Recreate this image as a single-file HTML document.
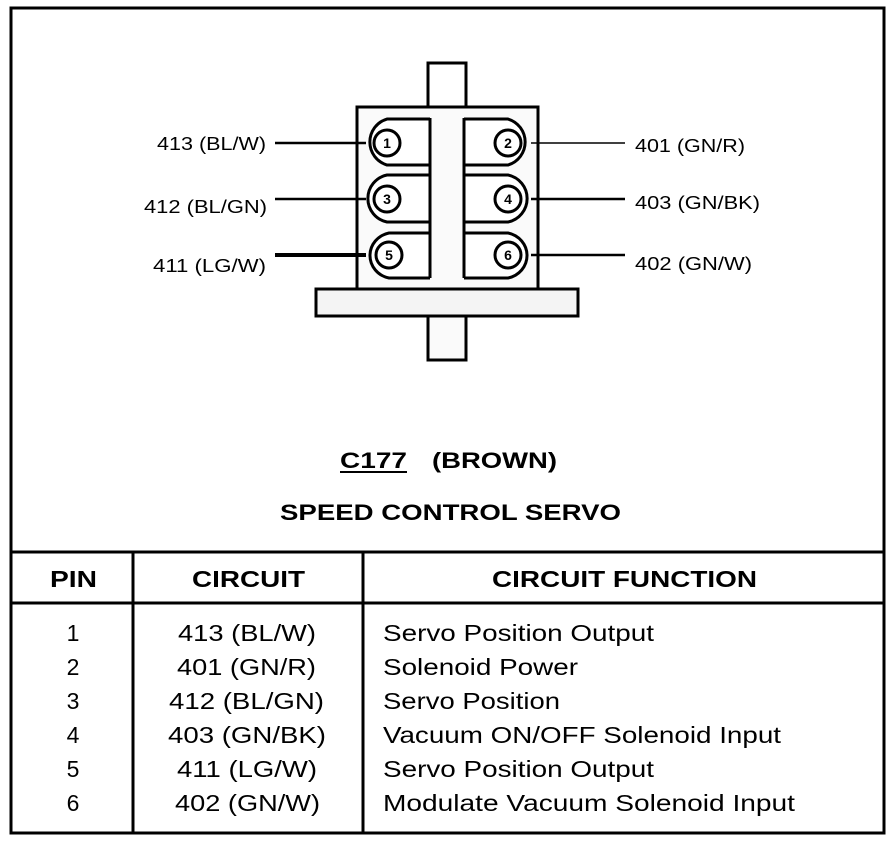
<!DOCTYPE html>
<html><head><style>
body{margin:0;background:#fff;}
svg text{font-family:"Liberation Sans",Arial,sans-serif;fill:#000;}
</style></head><body>
<svg width="896" height="842" viewBox="0 0 896 842" xmlns="http://www.w3.org/2000/svg">
<rect x="11" y="8" width="873" height="825" fill="none" stroke="#000" stroke-width="3"/>
<rect x="428" y="63" width="38" height="44" fill="#fff" stroke="#000" stroke-width="3"/>
<rect x="357" y="107" width="181" height="182" fill="#fafafa" stroke="#000" stroke-width="3"/>
<rect x="316" y="289" width="262" height="27" fill="#f4f4f4" stroke="#000" stroke-width="3"/>
<rect x="428" y="316" width="38" height="44" fill="#fafafa" stroke="#000" stroke-width="3"/>
<g fill="#fff" stroke="#000" stroke-width="3">
<path d="M430 119 H387 A24 24 0 0 0 387 165 H430"/>
<path d="M430 175 H387 A24 24 0 0 0 387 222 H430"/>
<path d="M430 233 H389 A24 23 0 0 0 389 278 H430"/>
<path d="M464 119 H508 A24 24 0 0 1 508 165 H464"/>
<path d="M464 175 H508 A24 24 0 0 1 508 222 H464"/>
<path d="M464 233 H508 A24 23 0 0 1 508 278 H464"/>
<circle cx="387" cy="143" r="13"/><circle cx="387" cy="199" r="13"/><circle cx="389" cy="255" r="13"/>
<circle cx="508" cy="143" r="13"/><circle cx="508" cy="199" r="13"/><circle cx="508" cy="255" r="13"/>
</g>
<path d="M430 118 V278 M464 118 V278" stroke="#000" stroke-width="3"/>
<g font-size="14" font-weight="bold" text-anchor="middle">
<text x="387" y="148">1</text><text x="387" y="204">3</text><text x="389" y="260">5</text>
<text x="508" y="148">2</text><text x="508" y="204">4</text><text x="508" y="260">6</text>
</g>
<g stroke="#000" stroke-width="2.5">
<line x1="275" y1="143" x2="366" y2="143"/>
<line x1="275" y1="199" x2="366" y2="199"/>
<line x1="275" y1="255" x2="366" y2="255" stroke-width="4"/>
<line x1="531" y1="143" x2="625" y2="143" stroke-width="1.5"/>
<line x1="531" y1="199" x2="625" y2="199"/>
<line x1="531" y1="255" x2="625" y2="255"/>
</g>
<g font-size="18">
<text x="157" y="150" textLength="109" lengthAdjust="spacingAndGlyphs">413 (BL/W)</text>
<text x="144" y="213" textLength="123" lengthAdjust="spacingAndGlyphs">412 (BL/GN)</text>
<text x="153" y="272" textLength="113" lengthAdjust="spacingAndGlyphs">411 (LG/W)</text>
<text x="635" y="152" textLength="110" lengthAdjust="spacingAndGlyphs">401 (GN/R)</text>
<text x="635" y="209" textLength="125" lengthAdjust="spacingAndGlyphs">403 (GN/BK)</text>
<text x="635" y="270" textLength="117" lengthAdjust="spacingAndGlyphs">402 (GN/W)</text>
</g>
<g font-size="22" font-weight="bold">
<text x="340" y="468" textLength="67" lengthAdjust="spacingAndGlyphs">C177</text>
<line x1="340" y1="472" x2="407" y2="472" stroke="#000" stroke-width="2"/>
<text x="432" y="468" textLength="125" lengthAdjust="spacingAndGlyphs">(BROWN)</text>
<text x="280" y="520" textLength="341" lengthAdjust="spacingAndGlyphs">SPEED CONTROL SERVO</text>
</g>
<g stroke="#000" stroke-width="3">
<line x1="11" y1="552" x2="884" y2="552"/>
<line x1="11" y1="603" x2="884" y2="603"/>
<line x1="133" y1="552" x2="133" y2="833"/>
<line x1="363" y1="552" x2="363" y2="833"/>
</g>
<g font-size="23" font-weight="bold">
<text x="50" y="587" textLength="47" lengthAdjust="spacingAndGlyphs">PIN</text>
<text x="192" y="587" textLength="113" lengthAdjust="spacingAndGlyphs">CIRCUIT</text>
<text x="492" y="587" textLength="265" lengthAdjust="spacingAndGlyphs">CIRCUIT FUNCTION</text>
</g>
<g font-size="23">
<g text-anchor="middle">
<text x="73" y="641">1</text><text x="73" y="675">2</text><text x="73" y="709">3</text>
<text x="73" y="743">4</text><text x="73" y="777">5</text><text x="73" y="811">6</text>
</g>
<text x="178" y="641" textLength="138" lengthAdjust="spacingAndGlyphs">413 (BL/W)</text>
<text x="177" y="675" textLength="139" lengthAdjust="spacingAndGlyphs">401 (GN/R)</text>
<text x="169" y="709" textLength="155" lengthAdjust="spacingAndGlyphs">412 (BL/GN)</text>
<text x="168" y="743" textLength="158" lengthAdjust="spacingAndGlyphs">403 (GN/BK)</text>
<text x="177" y="777" textLength="140" lengthAdjust="spacingAndGlyphs">411 (LG/W)</text>
<text x="175" y="811" textLength="145" lengthAdjust="spacingAndGlyphs">402 (GN/W)</text>
<text x="383" y="641" textLength="271" lengthAdjust="spacingAndGlyphs">Servo Position Output</text>
<text x="383" y="675" textLength="195" lengthAdjust="spacingAndGlyphs">Solenoid Power</text>
<text x="383" y="709" textLength="177" lengthAdjust="spacingAndGlyphs">Servo Position</text>
<text x="383" y="743" textLength="398" lengthAdjust="spacingAndGlyphs">Vacuum ON/OFF Solenoid Input</text>
<text x="383" y="777" textLength="271" lengthAdjust="spacingAndGlyphs">Servo Position Output</text>
<text x="383" y="811" textLength="412" lengthAdjust="spacingAndGlyphs">Modulate Vacuum Solenoid Input</text>
</g>
</svg>
</body></html>
